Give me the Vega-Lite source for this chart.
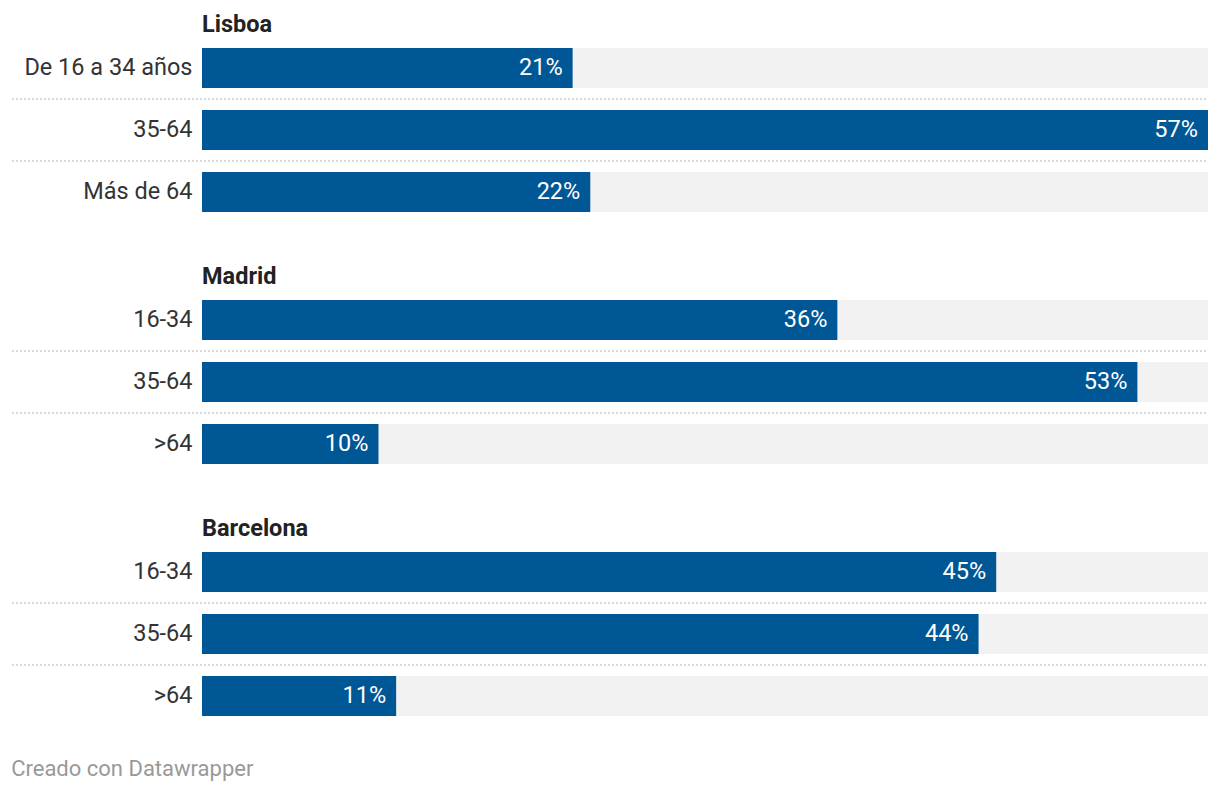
{
  "$schema": "https://vega.github.io/schema/vega-lite/v6.json",
  "padding": {"left": 11, "top": 12, "right": 12, "bottom": 10},
  "background": "white",
  "config": {
    "font": "Roboto",
    "view": {"stroke": null},
    "concat": {"spacing": 41}
  },
  "datasets": {
    "data": [
      {"city": "Lisboa", "age": "De 16 a 34 años", "value": 0.21},
      {"city": "Lisboa", "age": "35-64", "value": 0.57},
      {"city": "Lisboa", "age": "Más de 64", "value": 0.22},
      {"city": "Madrid", "age": "16-34", "value": 0.36},
      {"city": "Madrid", "age": "35-64", "value": 0.53},
      {"city": "Madrid", "age": ">64", "value": 0.10},
      {"city": "Barcelona", "age": "16-34", "value": 0.45},
      {"city": "Barcelona", "age": "35-64", "value": 0.44},
      {"city": "Barcelona", "age": ">64", "value": 0.11}
    ]
  },
  "title": {
    "text": "Creado con Datawrapper",
    "orient": "bottom",
    "anchor": "start",
    "frame": "bounds",
    "fontSize": 22,
    "fontWeight": "normal",
    "color": "#999999",
    "offset": 32,
    "dx": 0
  },
  "vconcat": [
    {
      "title": {"text": "Lisboa", "anchor": "start", "frame": "group", "fontSize": 23.5, "fontWeight": "bold", "color": "#222222", "offset": 1},
      "width": 1006,
      "height": {"step": 62},
      "data": {"name": "data"},
      "transform": [{"filter": "datum.city === 'Lisboa'"}],
      "encoding": {
        "y": {"field": "age", "type": "nominal", "sort": null,
          "scale": {"paddingInner": 0.3548, "paddingOuter": 0.1774},
          "axis": {"title": null, "domain": false, "ticks": false, "labelFontSize": 23.5, "labelColor": "#333333", "labelPadding": 10, "minExtent": 190, "labelLimit": 300}}
      },
      "layer": [
        {"mark": {"type": "bar", "color": "#f2f2f2"}, "encoding": {"x": {"value": 0}, "x2": {"value": "width"}}},
        {"mark": {"type": "bar", "color": "#005795"}, "encoding": {"x": {"field": "value", "type": "quantitative", "scale": {"domain": [0, 0.57], "nice": false}, "axis": null}}},
        {"mark": {"type": "text", "align": "right", "baseline": "middle", "dx": -10, "color": "white", "fontSize": 23.5}, "encoding": {"x": {"field": "value", "type": "quantitative"}, "text": {"field": "value", "type": "quantitative", "format": ".0%"}}},
        {"transform": [{"window": [{"op": "row_number", "as": "i"}]}, {"filter": "datum.i < 3"}],
          "mark": {"type": "rule", "color": "#cccccc", "strokeDash": [2, 2], "strokeWidth": 1.5, "yOffset": 11},
          "encoding": {"y": {"field": "age", "type": "nominal", "sort": null, "bandPosition": 1}, "x": {"datum": -0.1077}, "x2": {"datum": 0.57}}}
      ]
    },
    {
      "title": {"text": "Madrid", "anchor": "start", "frame": "group", "fontSize": 23.5, "fontWeight": "bold", "color": "#222222", "offset": 1},
      "width": 1006,
      "height": {"step": 62},
      "data": {"name": "data"},
      "transform": [{"filter": "datum.city === 'Madrid'"}],
      "encoding": {
        "y": {"field": "age", "type": "nominal", "sort": null,
          "scale": {"paddingInner": 0.3548, "paddingOuter": 0.1774},
          "axis": {"title": null, "domain": false, "ticks": false, "labelFontSize": 23.5, "labelColor": "#333333", "labelPadding": 10, "minExtent": 190, "labelLimit": 300}}
      },
      "layer": [
        {"mark": {"type": "bar", "color": "#f2f2f2"}, "encoding": {"x": {"value": 0}, "x2": {"value": "width"}}},
        {"mark": {"type": "bar", "color": "#005795"}, "encoding": {"x": {"field": "value", "type": "quantitative", "scale": {"domain": [0, 0.57], "nice": false}, "axis": null}}},
        {"mark": {"type": "text", "align": "right", "baseline": "middle", "dx": -10, "color": "white", "fontSize": 23.5}, "encoding": {"x": {"field": "value", "type": "quantitative"}, "text": {"field": "value", "type": "quantitative", "format": ".0%"}}},
        {"transform": [{"window": [{"op": "row_number", "as": "i"}]}, {"filter": "datum.i < 3"}],
          "mark": {"type": "rule", "color": "#cccccc", "strokeDash": [2, 2], "strokeWidth": 1.5, "yOffset": 11},
          "encoding": {"y": {"field": "age", "type": "nominal", "sort": null, "bandPosition": 1}, "x": {"datum": -0.1077}, "x2": {"datum": 0.57}}}
      ]
    },
    {
      "title": {"text": "Barcelona", "anchor": "start", "frame": "group", "fontSize": 23.5, "fontWeight": "bold", "color": "#222222", "offset": 1},
      "width": 1006,
      "height": {"step": 62},
      "data": {"name": "data"},
      "transform": [{"filter": "datum.city === 'Barcelona'"}],
      "encoding": {
        "y": {"field": "age", "type": "nominal", "sort": null,
          "scale": {"paddingInner": 0.3548, "paddingOuter": 0.1774},
          "axis": {"title": null, "domain": false, "ticks": false, "labelFontSize": 23.5, "labelColor": "#333333", "labelPadding": 10, "minExtent": 190, "labelLimit": 300}}
      },
      "layer": [
        {"mark": {"type": "bar", "color": "#f2f2f2"}, "encoding": {"x": {"value": 0}, "x2": {"value": "width"}}},
        {"mark": {"type": "bar", "color": "#005795"}, "encoding": {"x": {"field": "value", "type": "quantitative", "scale": {"domain": [0, 0.57], "nice": false}, "axis": null}}},
        {"mark": {"type": "text", "align": "right", "baseline": "middle", "dx": -10, "color": "white", "fontSize": 23.5}, "encoding": {"x": {"field": "value", "type": "quantitative"}, "text": {"field": "value", "type": "quantitative", "format": ".0%"}}},
        {"transform": [{"window": [{"op": "row_number", "as": "i"}]}, {"filter": "datum.i < 3"}],
          "mark": {"type": "rule", "color": "#cccccc", "strokeDash": [2, 2], "strokeWidth": 1.5, "yOffset": 11},
          "encoding": {"y": {"field": "age", "type": "nominal", "sort": null, "bandPosition": 1}, "x": {"datum": -0.1077}, "x2": {"datum": 0.57}}}
      ]
    }
  ]
}
